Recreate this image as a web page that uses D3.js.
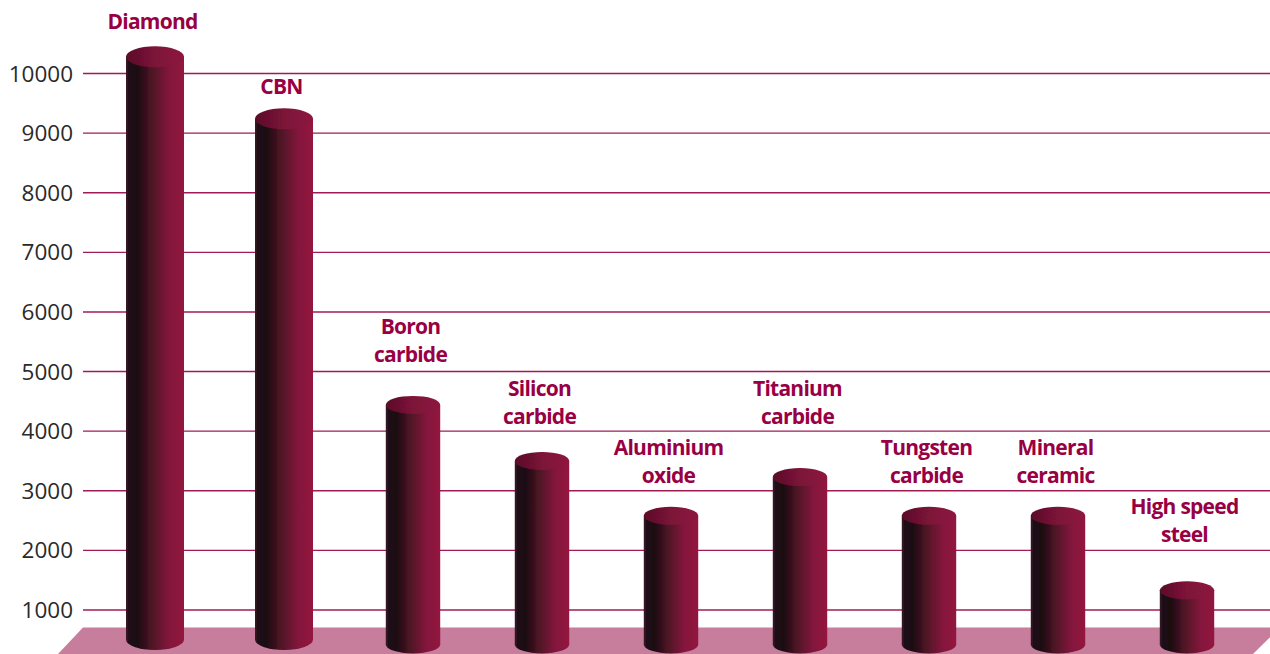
<!DOCTYPE html>
<html><head><meta charset="utf-8">
<script src="https://cdn.jsdelivr.net/npm/d3@7"></script>
<style>html,body{margin:0;padding:0;background:#fff;overflow:hidden}svg{display:block}</style>
</head><body><svg id="c" width="1270" height="654"></svg>
<script>
const categories = ["Diamond","CBN","Boron carbide","Silicon carbide","Aluminium oxide","Titanium carbide","Tungsten carbide","Mineral ceramic","High speed steel"];
const labelLines = [["Diamond"],["CBN"],["Boron","carbide"],["Silicon","carbide"],["Aluminium","oxide"],["Titanium","carbide"],["Tungsten","carbide"],["Mineral","ceramic"],["High speed","steel"]];
const values = [10280,9240,4440,3500,2580,3230,2580,2580,1330];
const labelLevels = [10865,9775,5280,4255,3250,4255,3250,3250,2260];
const tickValues = [1000,2000,3000,4000,5000,6000,7000,8000,9000,10000];

const W=1270,H=654;
const svg=d3.select("#c");
const y=d3.scaleLinear().domain([1000,10000]).range([610,73.5]);
const x=d3.scaleBand().domain(categories).range([90.5,1251.5]).padding(0);
const cx=c=>x(c)+x.bandwidth()/2;
const tall=v=>v>5000;

const defs=svg.append("defs");
const g1=defs.append("linearGradient").attr("id","body");
[[0,"#3b1a26"],[0.05,"#1f0f14"],[0.2,"#1c0c11"],[0.45,"#4f1426"],[0.75,"#84133c"],[1,"#93153f"]]
 .forEach(([o,c])=>g1.append("stop").attr("offset",o).attr("stop-color",c));
const g2=defs.append("linearGradient").attr("id","top");
[[0,"#5a1028"],[0.5,"#7c1238"],[1,"#8e1440"]]
 .forEach(([o,c])=>g2.append("stop").attr("offset",o).attr("stop-color",c));
defs.append("filter").attr("id","soft").append("feGaussianBlur").attr("stdDeviation",0.6);

// grid
svg.append("g").selectAll("line").data(tickValues).join("line")
 .attr("x1",83).attr("x2",W).attr("y1",d=>y(d)).attr("y2",d=>y(d))
 .attr("stroke","#a01a58").attr("stroke-width",1.4);

// tick labels
svg.append("g").selectAll("text").data(tickValues).join("text")
 .attr("x",73).attr("y",d=>y(d)).attr("dy","0.36em").attr("text-anchor","end")
 .attr("font-family","'Open Sans',sans-serif").attr("font-size",22.5).attr("fill","#2a2a2a")
 .text(d=>d);

// floor
svg.append("path").attr("d",d3.line()([[83,627.5],[1280,627.5],[1253,654],[58,654]])+"Z").attr("fill","#c77d9c");

// cylinders
const bars=svg.append("g").selectAll("g").data(categories.map((c,i)=>({c,v:values[i]}))).join("g")
 .attr("filter","url(#soft)");
const bw=d=>tall(d.v)?29:27.2;
const ry=d=>tall(d.v)?10.5:9;
const bottom=d=>tall(d.v)?650:653.5;
bars.append("ellipse").attr("cx",d=>cx(d.c)).attr("rx",bw).attr("ry",ry)
 .attr("cy",d=>bottom(d)-ry(d)).attr("fill","url(#body)");
bars.append("rect").attr("x",d=>cx(d.c)-bw(d)).attr("width",d=>2*bw(d))
 .attr("y",d=>y(d.v)).attr("height",d=>bottom(d)-ry(d)-y(d.v)).attr("fill","url(#body)");
bars.append("ellipse").attr("cx",d=>cx(d.c)).attr("rx",bw).attr("ry",ry)
 .attr("cy",d=>y(d.v)).attr("fill","url(#top)");

// category labels
const lab=svg.append("g").selectAll("text").data(categories.map((c,i)=>({c,l:labelLines[i],a:labelLevels[i]}))).join("text")
 .attr("text-anchor","middle").attr("font-family","'Open Sans',sans-serif").attr("font-weight",700)
 .attr("font-size",21).attr("letter-spacing",-0.75).attr("fill","#990044");
lab.each(function(d){
  const n=d.l.length;
  d3.select(this).selectAll("tspan").data(d.l).join("tspan")
   .attr("x",cx(d.c)-2.5).attr("y",(t,i)=>y(d.a)-(n-1-i)*28).attr("dy","0.36em").text(t=>t);
});
</script></body></html>
